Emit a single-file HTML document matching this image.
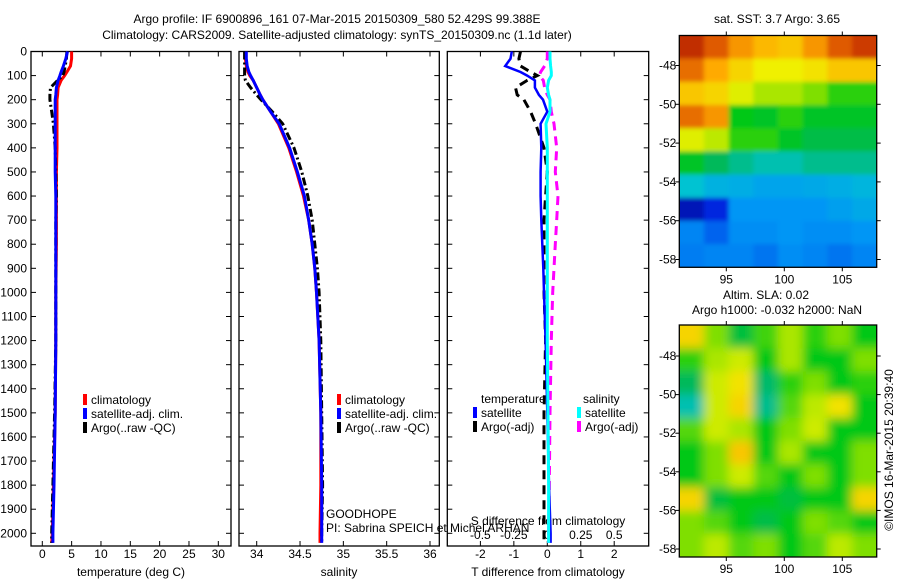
<!DOCTYPE html>
<html><head><meta charset="utf-8"><style>
html,body{margin:0;padding:0;background:#fff}
svg text{font-family:"Liberation Sans",sans-serif;font-size:12px;fill:#000}
</style></head><body>
<svg id="c" width="900" height="580" xmlns="http://www.w3.org/2000/svg">
<defs>
<filter id="blurS" x="-5%" y="-5%" width="110%" height="110%"><feGaussianBlur stdDeviation="2"/></filter>
<filter id="blurL" x="-5%" y="-5%" width="110%" height="110%"><feGaussianBlur stdDeviation="5"/></filter>
<clipPath id="clipS"><rect x="679.3" y="35.5" width="197.4" height="231.8"/></clipPath>
<clipPath id="clipL"><rect x="679.3" y="325" width="197.4" height="232"/></clipPath>
</defs>
<text x="337" y="23" text-anchor="middle">Argo profile: IF 6900896_161 07-Mar-2015 20150309_580 52.429S 99.388E</text>
<text x="337" y="39" text-anchor="middle">Climatology: CARS2009. Satellite-adjusted climatology: synTS_20150309.nc (1.1d later)</text>
<text x="777" y="23" text-anchor="middle">sat. SST: 3.7 Argo: 3.65</text>
<text x="766" y="299" text-anchor="middle">Altim. SLA: 0.02</text>
<text x="777" y="314" text-anchor="middle">Argo h1000: -0.032 h2000: NaN</text>
<text transform="translate(893,450) rotate(-90)" text-anchor="middle">©IMOS 16-Mar-2015 20:39:40</text>
</svg>
<script>
// ---------- data ----------
const depthTicks=[0,100,200,300,400,500,600,700,800,900,1000,1100,1200,1300,1400,1500,1600,1700,1800,1900,2000];
const tempTicks=[0,5,10,15,20,25,30];
const salTicks=[34,34.5,35,35.5,36];
const salTickLabels=["34","34.5","35","35.5","36"];
const tdiffTicks=[-2,-1,0,1,2];
const sdiffTicks=[-0.5,-0.25,0,0.25,0.5];
const sdiffTickLabels=["-0.5","-0.25","0","0.25","0.5"];
const depths=[0,30,60,85,100,120,150,180,200,250,300,400,500,600,700,800,900,1000,1200,1500,1800,2000,2040];
const tempClim=[5.0,5.0,4.8,4.2,3.8,3.2,2.7,2.6,2.5,2.5,2.5,2.5,2.4,2.4,2.4,2.4,2.35,2.3,2.3,2.2,1.9,1.7,1.6];
const tempSat=[4.3,4.0,3.6,3.2,3.0,2.7,2.4,2.3,2.2,2.2,2.2,2.2,2.2,2.3,2.3,2.3,2.3,2.3,2.3,2.2,2.0,1.8,1.8];
const tempArgo=[4.2,4.1,3.9,3.7,3.5,2.6,1.4,1.3,1.3,1.6,1.9,2.2,2.3,2.4,2.3,2.3,2.3,2.3,2.3,2.1,1.8,1.6,1.6];
const salClim=[33.87,33.87,33.88,33.9,33.92,33.96,34.0,34.04,34.07,34.16,34.25,34.37,34.46,34.54,34.6,34.64,34.67,34.69,34.72,34.74,34.74,34.73,34.73];
const salSat=[33.88,33.88,33.89,33.91,33.93,33.96,34.0,34.04,34.07,34.16,34.26,34.38,34.47,34.55,34.6,34.64,34.67,34.69,34.72,34.74,34.75,34.75,34.75];
const salArgo=[33.86,33.86,33.86,33.86,33.86,33.87,33.93,34.0,34.05,34.18,34.3,34.43,34.52,34.59,34.64,34.67,34.7,34.72,34.74,34.75,34.76,34.75,34.75];
const tdiffSat=[-1.06,-1.1,-1.26,-0.8,-0.6,-0.37,-0.37,-0.25,-0.13,0.0,-0.2,-0.18,-0.2,-0.2,-0.18,-0.15,-0.12,-0.1,-0.05,0.0,0.05,0.1,0.1];
const tdiffArgo=[-0.8,-0.85,-0.8,-0.5,-0.3,-0.6,-0.95,-0.9,-0.7,-0.5,-0.35,-0.1,0.0,-0.05,-0.1,-0.1,-0.1,-0.1,-0.05,-0.1,-0.1,-0.1,-0.1];
const sdiffSat=[0.02,0.02,0.025,0.03,0.03,0.01,0.0,0.01,0.02,0.02,-0.01,0.0,0.0,0.0,0.0,0.0,0.0,0.0,0.0,0.005,0.01,0.01,0.01];
const sdiffArgo=[0.0,0.0,-0.02,-0.05,-0.06,-0.03,-0.02,0.0,0.02,0.03,0.05,0.07,0.06,0.08,0.07,0.06,0.05,0.04,0.03,0.02,0.015,0.01,0.01];
const sstGrid=[
[.92,.86,.8,.76,.74,.8,.86,.9],
[.84,.78,.72,.68,.68,.7,.74,.74],
[.74,.72,.66,.6,.6,.58,.54,.54],
[.84,.8,.52,.5,.54,.5,.5,.5],
[.66,.62,.54,.54,.5,.47,.47,.47],
[.5,.45,.42,.4,.4,.42,.42,.42],
[.38,.34,.33,.31,.31,.32,.33,.35],
[.08,.14,.28,.28,.28,.28,.3,.32],
[.26,.22,.27,.27,.28,.27,.27,.28],
[.25,.26,.26,.24,.27,.26,.24,.26]];
const slaGrid=[
[.72,.58,.48,.55,.6,.54,.58,.52],
[.54,.6,.64,.52,.6,.52,.52,.58],
[.45,.64,.7,.44,.54,.58,.52,.54],
[.4,.64,.72,.42,.56,.62,.7,.52],
[.56,.64,.6,.52,.58,.64,.52,.52],
[.52,.58,.74,.52,.6,.52,.52,.58],
[.52,.58,.64,.56,.52,.58,.52,.58],
[.72,.48,.52,.52,.48,.52,.52,.72],
[.58,.56,.52,.47,.52,.58,.56,.52],
[.58,.62,.56,.58,.52,.56,.62,.58]];
const latTicks=[-48,-50,-52,-54,-56,-58];
const lonTicks=[95,100,105];

// ---------- helpers ----------
const svg=document.getElementById('c');
const NS='http://www.w3.org/2000/svg';
function mk(tag,attrs,parent){const e=document.createElementNS(NS,tag);for(const k in attrs)e.setAttribute(k,attrs[k]);(parent||svg).appendChild(e);return e;}
const yD=d=>51.5+d*0.2409;
const TOP=51.5,BOT=546;
function frame(x0,x1,name){
  const r=mk('rect',{x:x0,y:TOP,width:x1-x0,height:BOT-TOP,fill:'none',stroke:'#000','stroke-width':1.3});
  
  
  depthTicks.forEach(d=>{const y=yD(d);mk('line',{x1:x0,x2:x0+5,y1:y,y2:y,stroke:'#000'});mk('line',{x1:x1-5,x2:x1,y1:y,y2:y,stroke:'#000'});});
}
function xticks(xs,labels,ylab){
  xs.forEach((x,i)=>{mk('line',{x1:x,x2:x,y1:BOT,y2:BOT-5,stroke:'#000'});mk('line',{x1:x,x2:x,y1:TOP,y2:TOP+5,stroke:'#000'});
    const t=mk('text',{x:x,y:ylab,'text-anchor':'middle'});t.textContent=labels[i];
    
    });
}
function line(vals,fx,color,dash,name,w){
  const pts=vals.map((v,i)=>fx(v).toFixed(1)+','+yD(depths[i]).toFixed(1)).join(' ');
  const p=mk('polyline',{points:pts,fill:'none',stroke:color,'stroke-width':w||3,'stroke-dasharray':dash||'none'});
  
  
}
function txt(x,y,s,name,anchor){const t=mk('text',{x:x,y:y,'text-anchor':anchor||'start'});t.textContent=s;
  
  return t;}
function legend(x,y,color,label,name){
  const r=mk('rect',{x:x,y:y-10,width:4,height:11,fill:color});
  
  
  txt(x+8,y,label,name+'-label');
}
depthTicks.forEach(d=>txt(27,yD(d)+4,String(d),'y-tick-label','end'));

// panel 1 temperature
const xT=v=>42.3+v*5.867;
frame(31,231,'temperature-axes');
xticks(tempTicks.map(xT),tempTicks.map(String),558);
txt(131,576,'temperature (deg C)','x-axis-title-temperature','middle');
line(tempClim,xT,'#f00',null,'temp-climatology-line');
line(tempArgo,xT,'#000','8,3,2,3','temp-argo-line');
line(tempSat,xT,'#00f',null,'temp-satellite-line');
legend(83,404,'#f00','climatology','legend-climatology');
legend(83,418,'#00f','satellite-adj. clim.','legend-satellite');
legend(83,432,'#000','Argo(..raw -QC)','legend-argo');

// panel 2 salinity
const xS=v=>256.7+(v-34)*86.65;
frame(239,439.3,'salinity-axes');
xticks(salTicks.map(xS),salTickLabels,558);
txt(339,576,'salinity','x-axis-title-salinity','middle');
line(salClim,xS,'#f00',null,'sal-climatology-line');
line(salArgo,xS,'#000','8,3,2,3','sal-argo-line');
line(salSat,xS,'#00f',null,'sal-satellite-line');
legend(337,404,'#f00','climatology','legend-climatology-sal');
legend(337,418,'#00f','satellite-adj. clim.','legend-satellite-sal');
legend(337,432,'#000','Argo(..raw -QC)','legend-argo-sal');
txt(326,518,'GOODHOPE','project-label');
txt(326,532,'PI: Sabrina SPEICH et Michel ARHAN','pi-label');

// panel 3 differences
const xDT=v=>547.3+v*33.45;
const xDS=v=>547.3+v*133.8;
frame(447.3,648.7,'difference-axes');
xticks(tdiffTicks.map(xDT),tdiffTicks.map(String),558);
txt(548,576,'T difference from climatology','x-axis-title-tdiff','middle');
sdiffTicks.forEach((v,i)=>txt(xDS(v),539,sdiffTickLabels[i],'s-tick-label','middle'));
txt(548,525,'S difference from climatology','s-axis-title','middle');
line(tdiffArgo,xDT,'#000','9,6','tdiff-argo-line');
line(sdiffArgo,xDS,'#f0f','9,6','sdiff-argo-line');
line(tdiffSat,xDT,'#00f',null,'tdiff-satellite-line',2.5);
line(sdiffSat,xDS,'#0ff',null,'sdiff-satellite-line',3);
txt(481,403,'temperature','legend-temperature-heading');
legend(473,417,'#00f','satellite','legend-tdiff-satellite');
legend(473,431,'#000','Argo(-adj)','legend-tdiff-argo');
txt(583,403,'salinity','legend-salinity-heading');
legend(577,417,'#0ff','satellite','legend-sdiff-satellite');
legend(577,431,'#f0f','Argo(-adj)','legend-sdiff-argo');

// maps
const cmapStops=[[0,[0,0,130]],[0.15,[0,40,230]],[0.28,[0,150,245]],[0.38,[0,195,210]],[0.45,[0,185,90]],[0.52,[0,200,20]],[0.6,[170,230,0]],[0.68,[240,240,0]],[0.78,[255,170,0]],[0.88,[215,70,0]],[1,[150,0,0]]];
function cmap(v){
  for(let i=1;i<cmapStops.length;i++){const [a,ca]=cmapStops[i-1],[b,cb]=cmapStops[i];
    if(v<=b){const t=(v-a)/(b-a);return 'rgb('+ca.map((c,k)=>Math.round(c+(cb[k]-c)*t)).join(',')+')';}}
  return 'rgb(150,0,0)';
}
function map(grid,x0,y0,x1,y1,name,latY,filt,clip){
  const outer=mk('g',{'clip-path':'url(#'+clip+')'});
  const g=mk('g',{filter:'url(#'+filt+')'},outer);
  
  
  const rows=grid.length,cols=grid[0].length,cw=(x1-x0)/cols,ch=(y1-y0)/rows;
  grid.forEach((row,i)=>row.forEach((v,j)=>{
    const c=mk('rect',{x:x0+j*cw-(j==0?12:0),y:y0+i*ch-(i==0?12:0),width:cw+0.5+(j==0||j==cols-1?12:0),height:ch+0.5+(i==0||i==rows-1?12:0),fill:cmap(v)},g);
    
    
  }));
  mk('rect',{x:x0,y:y0,width:x1-x0,height:y1-y0,fill:'none',stroke:'#000','stroke-width':1.3});
  latTicks.forEach(l=>{const y=latY(l);mk('line',{x1:x0,x2:x0-4,y1:y,y2:y,stroke:'#000'});mk('line',{x1:x1,x2:x1+4,y1:y,y2:y,stroke:'#000'});
    txt(x0-3,y+4,String(l),'lat-tick-label','end');});
  const xL=lo=>726.3+(lo-95)*11.6;
  lonTicks.forEach(lo=>{const x=xL(lo);mk('line',{x1:x,x2:x,y1:y0,y2:y0-4,stroke:'#000'});mk('line',{x1:x,x2:x,y1:y1,y2:y1+4,stroke:'#000'});
    txt(x,y1+16,String(lo),'lon-tick-label','middle');});
}
map(sstGrid,679.3,35.5,876.7,267.3,'sst-map',l=>65.5+(-48-l)*19.4,'blurS','clipS');
map(slaGrid,679.3,325,876.7,557,'sla-map',l=>356+(-48-l)*19.3,'blurL','clipL');
</script>
</body></html>
